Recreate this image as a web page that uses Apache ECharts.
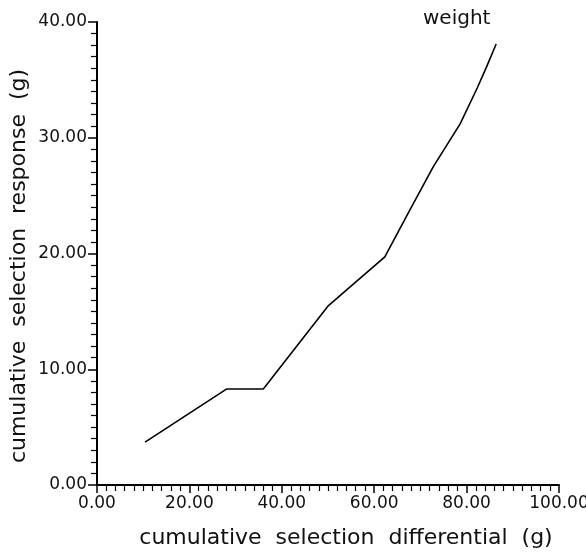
<!DOCTYPE html>
<html>
<head>
<meta charset="utf-8">
<script src="https://cdn.jsdelivr.net/npm/echarts@6/dist/echarts.min.js"></script>
<style>html,body{margin:0;padding:0;background:#fff}#c{width:586px;height:556px}</style>
</head>
<body>
<div id="c"></div>
<script>
// Data
var differential = [10.4, 28.1, 36.0, 50.1, 62.3, 67.5, 72.8, 78.6, 82.3, 84.3, 86.4];
var response     = [3.7, 8.3, 8.3, 15.5, 19.7, 23.6, 27.5, 31.2, 34.3, 36.1, 38.1];
var seriesName = 'weight';
var xTitle = 'cumulative  selection  differential  (g)';
var yTitle = 'cumulative  selection  response  (g)';

var points = differential.map(function (x, i) { return [x, response[i]]; });
var font = 'DejaVu Sans';

var chart = echarts.init(document.getElementById('c'), null, {renderer: 'canvas'});
chart.setOption({
  animation: false,
  backgroundColor: '#fff',
  title: {
    text: seriesName, left: 418, top: 4,
    textStyle: {fontFamily: font, fontSize: 20, fontWeight: 'normal', color: '#111'}
  },
  graphic: [{
    type: 'text', x: 19, y: 266, rotation: Math.PI / 2,
    style: {
      text: yTitle, fill: '#111', fontFamily: font, fontSize: 22,
      align: 'center', verticalAlign: 'middle',
      textAlign: 'center', textVerticalAlign: 'middle'
    }
  }],
  grid: {left: 97, right: 27, top: 22, bottom: 71, containLabel: false, outerBoundsMode: 'none'},
  xAxis: {
    type: 'value', min: 0, max: 100, interval: 20,
    name: xTitle, nameLocation: 'middle', nameGap: 42, nameMoveOverlap: false,
    nameTextStyle: {fontFamily: font, fontSize: 22, color: '#111', padding: [0, 0, 0, 36]},
    axisLine: {show: true, onZero: false, lineStyle: {color: '#000', width: 2}},
    axisTick: {show: true, inside: false, length: 8, lineStyle: {color: '#000', width: 1.5}},
    minorTick: {show: true, splitNumber: 10, length: 6, lineStyle: {color: '#000', width: 1.2}},
    splitLine: {show: false},
    axisLabel: {margin: 10, fontFamily: font, fontSize: 17, color: '#111',
      formatter: function (v) { return v.toFixed(2); }}
  },
  yAxis: {
    type: 'value', min: 0, max: 40, interval: 10,
    axisLine: {show: true, onZero: false, lineStyle: {color: '#000', width: 2}},
    axisTick: {show: true, inside: false, length: 9, lineStyle: {color: '#000', width: 1.5}},
    minorTick: {show: true, splitNumber: 10, length: 6, lineStyle: {color: '#000', width: 1.2}},
    splitLine: {show: false},
    axisLabel: {margin: 10, fontFamily: font, fontSize: 17, color: '#111',
      formatter: function (v) { return v.toFixed(2); }}
  },
  series: [{
    name: seriesName, type: 'line', data: points,
    showSymbol: false, symbol: 'none',
    lineStyle: {color: '#000', width: 1.6}
  }]
});
</script>
</body>
</html>
